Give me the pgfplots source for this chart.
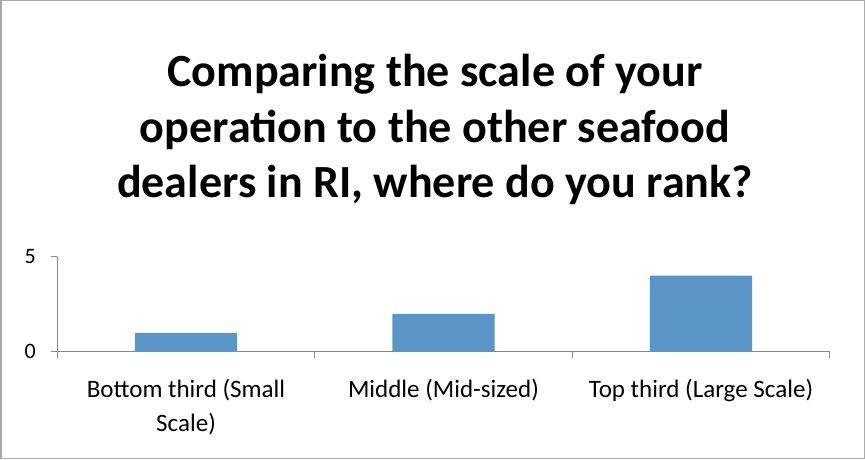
\documentclass[border=0pt]{standalone}
\usepackage{pgfplots}
\pgfplotsset{compat=1.18}
\usepackage{fontspec}
\setmainfont{Carlito}
\definecolor{barblue}{RGB}{91,148,198}
\definecolor{axisgray}{RGB}{134,134,134}
\begin{document}
\begin{tikzpicture}[x=1pt,y=1pt]
\draw[draw=axisgray!70, line width=1.5pt] (1.5,1.5) rectangle (863.5,458.5);
\node[align=center, font=\fontsize{46}{55}\selectfont\bfseries, text=black] at (435,330)
  {Comparing the scale of your\\operation to the other seafood\\dealers in RI, where do you rank?};
\begin{axis}[
  at={(58pt,108pt)}, anchor=south west,
  scale only axis, width=771pt, height=95pt,
  xmin=-0.5, xmax=2.5, ymin=0, ymax=5,
  axis x line*=bottom, axis y line*=left,
  axis line style={draw=axisgray, line width=1pt},
  ytick={0,5},
  yticklabel style={font=\fontsize{22}{24}\selectfont, xshift=-12pt},
  /pgf/number format/assume math mode=true,
  xtick={0,1,2},
  xticklabels={{Bottom third (Small\\Scale)},{Middle (Mid-sized)},{Top third (Large Scale)}},
  xticklabel style={font=\fontsize{25}{34}\selectfont, align=center, yshift=-18pt},
  major x tick style={draw=none},
  minor xtick={-0.5,0.5,1.5,2.5},
  minor tick length=6pt,
  minor x tick style={draw=axisgray, line width=1pt},
  major tick length=6pt,
  ytick style={draw=axisgray, line width=1pt},
  tick align=outside,
  tick pos=left,
  ybar, bar width=0.397,
  enlargelimits=false,
  clip=false,
]
\addplot[fill=barblue, draw=none] coordinates {(0,1) (1,2) (2,4)};
\end{axis}
\end{tikzpicture}
\end{document}
